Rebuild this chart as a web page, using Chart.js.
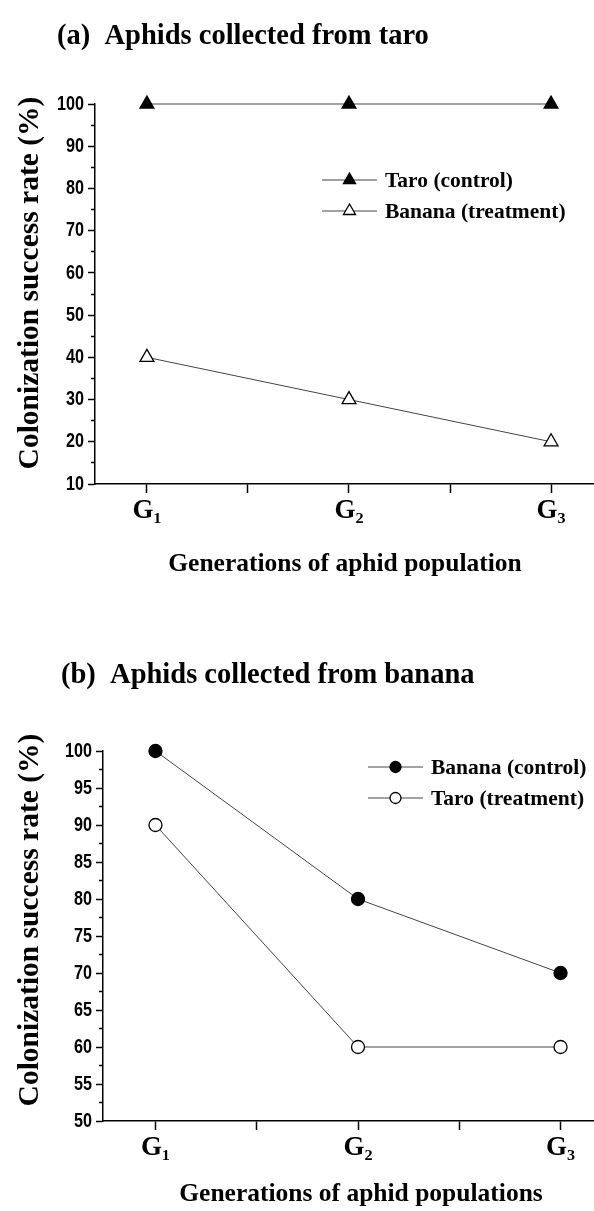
<!DOCTYPE html>
<html>
<head>
<meta charset="utf-8">
<script src="https://cdn.jsdelivr.net/npm/chart.js@4.4.0/dist/chart.umd.min.js"></script>
<style>
  html, body { margin: 0; padding: 0; background: #fff; }
  .wrap { width: 594px; overflow: hidden; }
  canvas { display: block; }
</style>
</head>
<body>
<div class="wrap">
  <canvas id="chartA" width="604" height="600"></canvas>
  <canvas id="chartB" width="604" height="611"></canvas>
</div>
<script>
// data
const generations = ['G\u2081', 'G\u2082', 'G\u2083'];
const genPositions = [0, 0.5, 1, 1.5, 2];

const taroControlA = [100, 100, 100];
const bananaTreatmentA = [40, 30, 20];
const yTicksA = [10, 20, 30, 40, 50, 60, 70, 80, 90, 100];
const yMinorA = [15, 25, 35, 45, 55, 65, 75, 85, 95];

const bananaControlB = [100, 80, 70];
const taroTreatmentB = [90, 60, 60];
const yTicksB = [50, 55, 60, 65, 70, 75, 80, 85, 90, 95, 100];
const yMinorB = [52.5, 57.5, 62.5, 67.5, 72.5, 77.5, 82.5, 87.5, 92.5, 97.5];

const SERIF = '"Liberation Serif", "Times New Roman", serif';
const SANS = '"Liberation Sans", Arial, sans-serif';

Chart.defaults.color = '#000';

const toPoints = vals => vals.map((v, i) => ({ x: i, y: v }));

// titles, axis titles and the line+marker legend
const panelText = {
  id: 'panelText',
  beforeDraw(chart) {
    // the original uses a narrow sans for the y tick numbers
    const sc = chart.scales.y;
    if (sc && !sc._narrow) {
      const orig = sc.drawLabels;
      sc.drawLabels = function (area) {
        const c = this.ctx;
        const ax = this.right - 11;
        c.save();
        c.translate(ax, 0);
        c.scale(0.79, 1);
        c.translate(-ax, 0);
        orig.call(this, area);
        c.restore();
      };
      sc._narrow = true;
    }
  },
  afterDraw(chart, args, o) {
    const ctx = chart.ctx;
    ctx.save();
    ctx.fillStyle = '#000';
    ctx.textBaseline = 'alphabetic';

    ctx.font = 'bold 28.5px ' + SERIF;
    ctx.textAlign = 'left';
    ctx.fillText(o.title.text, o.title.x, o.title.y);

    ctx.font = 'bold 25.5px ' + SERIF;
    ctx.textAlign = 'center';
    ctx.fillText(o.xTitle.text, o.xTitle.x, o.xTitle.y);

    ctx.save();
    ctx.translate(o.yTitle.x, o.yTitle.y);
    ctx.rotate(-Math.PI / 2);
    ctx.font = 'bold 29.5px ' + SERIF;
    ctx.fillText(o.yTitle.text, 0, 0);
    ctx.restore();

    // legend
    chart.data.datasets.forEach((ds, i) => {
      const y = o.legend.y + i * o.legend.gap;
      const x0 = o.legend.x;
      ctx.strokeStyle = ds.borderColor;
      ctx.lineWidth = 1;
      ctx.beginPath();
      ctx.moveTo(x0, y);
      ctx.lineTo(x0 + 55, y);
      ctx.stroke();
      ctx.fillStyle = ds.pointBackgroundColor;
      ctx.strokeStyle = ds.pointBorderColor;
      ctx.lineWidth = ds.pointBorderWidth;
      Chart.helpers.drawPoint(ctx, {
        pointStyle: ds.pointStyle,
        radius: o.legend.radius,
        rotation: 0,
        borderWidth: ds.pointBorderWidth
      }, x0 + 27.5, y);
      ctx.fillStyle = '#000';
      ctx.font = 'bold 21.5px ' + SERIF;
      ctx.textAlign = 'left';
      ctx.textBaseline = 'middle';
      ctx.fillText(ds.label, x0 + 63, y + 1);
    });
    ctx.restore();
  }
};

function makeChart(id, cfg) {
  return new Chart(document.getElementById(id), {
    type: 'line',
    data: {
      datasets: cfg.series.map(s => ({
        label: s.label,
        data: toPoints(s.values),
        borderColor: '#444',
        borderWidth: 1,
        pointStyle: s.style,
        pointRadius: s.radius,
        pointBackgroundColor: s.filled ? '#000' : '#fff',
        pointBorderColor: '#000',
        pointBorderWidth: 1.3,
        clip: false
      }))
    },
    options: {
      responsive: false,
      animation: false,
      events: [],
      layout: { padding: { top: cfg.top, left: 0, right: 0, bottom: 0 } },
      plugins: {
        legend: { display: false },
        tooltip: { enabled: false },
        panelText: cfg.text
      },
      scales: {
        x: {
          type: 'linear',
          position: 'bottom',
          min: cfg.xMin,
          max: cfg.xMax,
          afterBuildTicks: s => { s.ticks = genPositions.map(v => ({ value: v })); },
          afterFit: s => { s.height = cfg.xAxisHeight; s.paddingLeft = 0; s.paddingRight = 0; },
          border: { color: '#000', width: 1.5 },
          grid: { drawOnChartArea: false, tickLength: 9, tickWidth: 1.5, tickColor: '#000' },
          ticks: {
            autoSkip: false,
            maxRotation: 0,
            padding: 2,
            color: '#000',
            font: { family: SERIF, weight: 'bold', size: 27 },
            callback: v => Number.isInteger(v) ? generations[v] : ''
          }
        },
        y: {
          position: 'left',
          weight: 1,
          min: cfg.yMin,
          max: cfg.yMax,
          afterBuildTicks: s => { s.ticks = cfg.yTicks.map(v => ({ value: v })); },
          afterFit: s => { s.width = cfg.left; s.paddingTop = 0; s.paddingBottom = 0; },
          border: { color: '#000', width: 1.5 },
          grid: { drawOnChartArea: false, tickLength: 7, tickWidth: 1.5, tickColor: '#000' },
          ticks: {
            autoSkip: false,
            padding: 4,
            color: '#000',
            font: { family: SANS, weight: 'bold', size: 20.5 }
          }
        },
        yMinor: {
          position: 'left',
          weight: 0,
          min: cfg.yMin,
          max: cfg.yMax,
          afterBuildTicks: s => { s.ticks = cfg.yMinor.map(v => ({ value: v })); },
          afterFit: s => { s.width = 0; s.paddingTop = 0; s.paddingBottom = 0; },
          border: { display: false },
          grid: { drawOnChartArea: false, tickLength: 4, tickWidth: 1.5, tickColor: '#000' },
          ticks: { display: false }
        }
      }
    },
    plugins: [panelText]
  });
}

makeChart('chartA', {
  series: [
    { label: 'Taro (control)', values: taroControlA, style: 'triangle', radius: 8, filled: true },
    { label: 'Banana (treatment)', values: bananaTreatmentA, style: 'triangle', radius: 8, filled: false }
  ],
  xMin: -0.257, xMax: 2.216,
  yMin: 10, yMax: 100, yTicks: yTicksA, yMinor: yMinorA,
  top: 104, left: 95, xAxisHeight: 116,
  text: {
    title: { text: '(a)  Aphids collected from taro', x: 57, y: 44 },
    xTitle: { text: 'Generations of aphid population', x: 345, y: 571 },
    yTitle: { text: 'Colonization success rate (%)', x: 38, y: 283 },
    legend: { x: 322, y: 180, gap: 31, radius: 7 }
  }
});

makeChart('chartB', {
  series: [
    { label: 'Banana (control)', values: bananaControlB, style: 'circle', radius: 6.5, filled: true },
    { label: 'Taro (treatment)', values: taroTreatmentB, style: 'circle', radius: 6.5, filled: false }
  ],
  xMin: -0.259, xMax: 2.176,
  yMin: 50, yMax: 100, yTicks: yTicksB, yMinor: yMinorB,
  top: 151, left: 103, xAxisHeight: 90,
  text: {
    title: { text: '(b)  Aphids collected from banana', x: 61, y: 83 },
    xTitle: { text: 'Generations of aphid populations', x: 361, y: 601 },
    yTitle: { text: 'Colonization success rate (%)', x: 38, y: 320 },
    legend: { x: 368, y: 167, gap: 31, radius: 5.5 }
  }
});
</script>
</body>
</html>
